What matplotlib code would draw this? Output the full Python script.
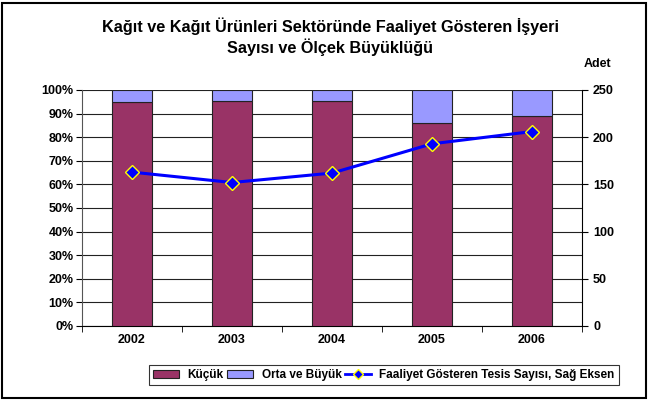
import matplotlib.pyplot as plt
import numpy as np
from matplotlib.lines import Line2D
from matplotlib.patches import Patch, Rectangle

plt.rcParams['font.family'] = ['Liberation Sans', 'DejaVu Sans']

# veriler
years = ['2002', '2003', '2004', '2005', '2006']
kucuk = [95, 95.5, 95.5, 86, 89]            # %
orta_buyuk = [100 - v for v in kucuk]       # %
tesis = [163, 152, 162, 193, 206]           # adet, sag eksen

c_kucuk = '#993366'
c_orta = '#9999FF'

fig = plt.figure(figsize=(6.49, 4.0), dpi=100)
ax = fig.add_axes([82 / 649, 1 - 326 / 400, 500 / 649, 236 / 400])

x = np.arange(len(years))
ax.bar(x, kucuk, width=0.4, color=c_kucuk, edgecolor='#222222', linewidth=0.8, zorder=3)
ax.bar(x, orta_buyuk, bottom=kucuk, width=0.4, color=c_orta, edgecolor='#222222',
       linewidth=0.8, zorder=3)

ax.set_xlim(-0.5, len(years) - 0.5)
ax.set_ylim(0, 100)
ax.set_yticks(np.arange(0, 101, 10))
ax.set_yticklabels(['%d%%' % v for v in range(0, 101, 10)])
ax.yaxis.grid(True, color='#222222', linewidth=0.8, zorder=0)
ax.set_axisbelow(True)

ax.set_xticks(x)
ax.set_xticklabels(years)
ax.set_xticks(np.arange(-0.5, len(years)), minor=True)
ax.tick_params(axis='x', which='major', length=0, pad=6)
ax.tick_params(axis='x', which='minor', length=4, direction='out', color='black')
ax.tick_params(axis='y', length=4, direction='out', pad=2)
for lab in ax.get_xticklabels() + ax.get_yticklabels():
    lab.set_fontweight('bold')
    lab.set_fontsize(9)

ax.spines['top'].set_visible(False)
ax.spines['right'].set_visible(False)
ax.spines['left'].set_color('#555555')
ax.spines['bottom'].set_color('black')

ax2 = ax.twinx()
ax2.plot(x, tesis, color='#0000FF', linewidth=2.2, marker='D', markersize=7,
         markerfacecolor='#0000FF', markeredgecolor='#FFFF00', markeredgewidth=1, zorder=5)
ax2.set_ylim(0, 250)
ax2.set_yticks(np.arange(0, 251, 50))
ax2.tick_params(axis='y', length=4, direction='out', pad=4)
for lab in ax2.get_yticklabels():
    lab.set_fontweight('bold')
    lab.set_fontsize(9)
ax2.spines['top'].set_visible(False)
ax2.spines['left'].set_visible(False)
ax2.spines['bottom'].set_visible(False)
ax2.spines['right'].set_color('black')

fig.text(330 / 649, 1 - 26 / 400, 'Kağıt ve Kağıt Ürünleri Sektöründe Faaliyet Gösteren İşyeri',
         ha='center', va='center', fontsize=11.7, fontweight='bold')
fig.text(330 / 649, 1 - 47 / 400, 'Sayısı ve Ölçek Büyüklüğü',
         ha='center', va='center', fontsize=11.7, fontweight='bold')
fig.text(597 / 649, 1 - 64 / 400, 'Adet', ha='center', va='center', fontsize=9,
         fontweight='bold')

handles = [Patch(facecolor=c_kucuk, edgecolor='#222222', linewidth=0.8),
           Patch(facecolor=c_orta, edgecolor='#222222', linewidth=0.8),
           Line2D([], [], color='#0000FF', linewidth=2, marker='D', markersize=5,
                  markerfacecolor='#0000FF', markeredgecolor='#FFFF00')]
labels = ['Küçük', 'Orta ve Büyük', 'Faaliyet Gösteren Tesis Sayısı, Sağ Eksen']
leg = fig.legend(handles, labels, loc='center', bbox_to_anchor=(384 / 649, 1 - 375 / 400),
                 ncol=3, frameon=True, fancybox=False, edgecolor='black',
                 handlelength=2.2, handleheight=0.6, handletextpad=0.7,
                 columnspacing=0.3, borderpad=0.35,
                 prop={'weight': 'bold', 'size': 8.5})
leg.get_frame().set_linewidth(0.8)

# dis cerceve
fig.patches.append(Rectangle((2 / 649, 2 / 400), 644 / 649, 395 / 400, transform=fig.transFigure,
                             fill=False, edgecolor='black', linewidth=1.5))

fig.savefig('out.png', dpi=100)
